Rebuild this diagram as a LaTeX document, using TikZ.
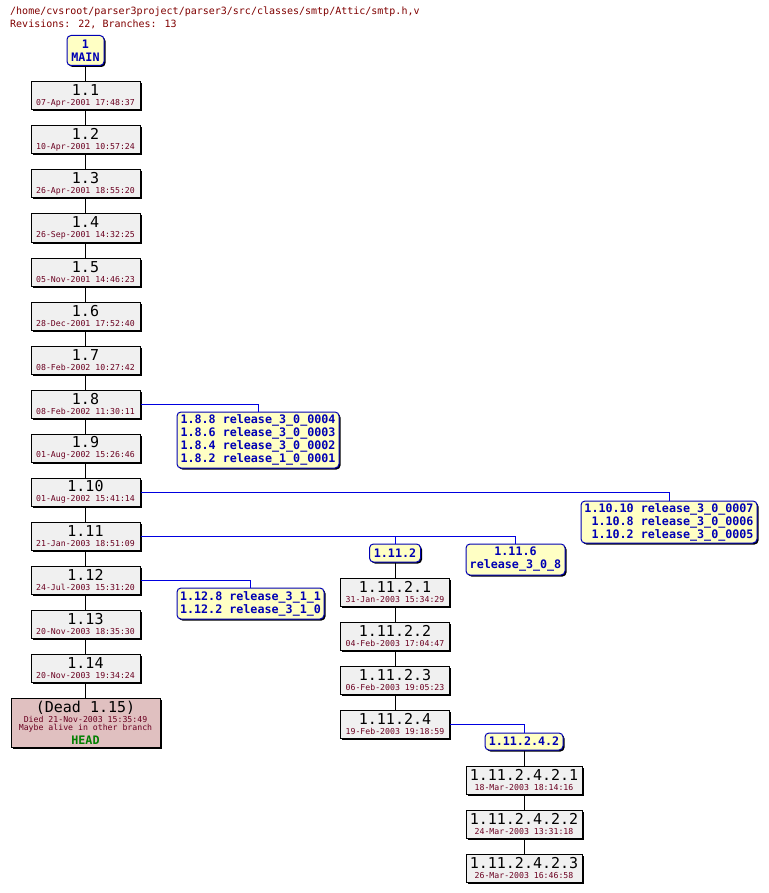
\documentclass[tikz,border=0pt]{standalone}
\usepackage{fontspec}
\setmainfont{DejaVu Sans Mono}
\usetikzlibrary{shadows}

\definecolor{revfill}{HTML}{F0F0F0}
\definecolor{tagfill}{HTML}{FFFFC4}
\definecolor{tagblue}{HTML}{0000B4}
\definecolor{lineblue}{HTML}{0000E0}
\definecolor{datered}{HTML}{6A0020}
\definecolor{hdrred}{HTML}{800000}
\definecolor{deadfill}{HTML}{E0C0C0}
\definecolor{headgreen}{HTML}{008000}

\newcommand{\revtext}[2]{{\fontsize{15}{9.5}\selectfont #1}\\\textcolor{datered}{#2}}

\begin{document}
\begin{tikzpicture}[
  x=1pt, y=-1pt,
  revbox/.style={draw, fill=revfill, line width=1pt, minimum width=109pt, minimum height=28pt, inner sep=0pt, align=center, font=\fontsize{8.2}{9.5}\selectfont, general shadow={fill=black, shadow xshift=1.5pt, shadow yshift=-1.5pt}},
  tagbox/.style={draw=tagblue, fill=tagfill, line width=1pt, rounded corners=4pt, inner sep=0pt, text=tagblue, font=\fontsize{11.7}{13}\selectfont\bfseries, general shadow={fill=black, shadow xshift=1.5pt, shadow yshift=-1.5pt}},
  hdr/.style={anchor=base west, inner sep=0pt, text=hdrred, font=\fontsize{10}{12}\selectfont},
  revline/.style={line width=1pt},
  branchline/.style={line width=1pt, draw=lineblue}
]
\useasboundingbox[fill=white] (0,0) rectangle (768,893);

% Header
\node[hdr] (hdrpath) at (10,15) {/home/cvsroot/parser3project/parser3/src/classes/smtp/Attic/smtp.h,v};
\node[hdr] (hdrstats) at (10,28) {Revisions: 22, Branches: 13};

% Trunk
\node[tagbox, align=center, minimum width=37pt, minimum height=30pt] (main) at (85.5,50.5) {1\\MAIN};
\node[revbox] (r11) at (85.5,96) {\revtext{1.1}{07-Apr-2001 17:48:37}};
\node[revbox] (r12) at (85.5,140) {\revtext{1.2}{10-Apr-2001 10:57:24}};
\node[revbox] (r13) at (85.5,184) {\revtext{1.3}{26-Apr-2001 18:55:20}};
\node[revbox] (r14) at (85.5,228) {\revtext{1.4}{26-Sep-2001 14:32:25}};
\node[revbox] (r15) at (85.5,272) {\revtext{1.5}{05-Nov-2001 14:46:23}};
\node[revbox] (r16) at (85.5,316) {\revtext{1.6}{28-Dec-2001 17:52:40}};
\node[revbox] (r17) at (85.5,360) {\revtext{1.7}{08-Feb-2002 10:27:42}};
\node[revbox] (r18) at (85.5,404) {\revtext{1.8}{08-Feb-2002 11:30:11}};
\node[revbox] (r19) at (85.5,448) {\revtext{1.9}{01-Aug-2002 15:26:46}};
\node[revbox] (r110) at (85.5,492) {\revtext{1.10}{01-Aug-2002 15:41:14}};
\node[revbox] (r111) at (85.5,536) {\revtext{1.11}{21-Jan-2003 18:51:09}};
\node[revbox] (r112) at (85.5,580) {\revtext{1.12}{24-Jul-2003 15:31:20}};
\node[revbox] (r113) at (85.5,624) {\revtext{1.13}{20-Nov-2003 18:35:30}};
\node[revbox] (r114) at (85.5,668) {\revtext{1.14}{20-Nov-2003 19:34:24}};
\node[revbox, fill=deadfill, minimum width=149pt, minimum height=49pt] (dead) at (85.5,722.5)
  {{\fontsize{15}{10}\selectfont (Dead 1.15)}\\[0.5pt]\textcolor{datered}{Died 21-Nov-2003 15:35:49}\\[-1pt]\textcolor{datered}{Maybe alive in other branch}\\[2pt]{\fontsize{11.7}{12}\selectfont\bfseries\textcolor{headgreen}{HEAD}}};

% Tags
\node[tagbox, align=right, minimum width=162pt, minimum height=56pt] (t18) at (258,440)
  {1.8.8 release\_3\_0\_0004\\1.8.6 release\_3\_0\_0003\\1.8.4 release\_3\_0\_0002\\1.8.2 release\_1\_0\_0001};
\node[tagbox, align=right, minimum width=176pt, minimum height=42pt] (t110) at (669,522)
  {1.10.10 release\_3\_0\_0007\\1.10.8 release\_3\_0\_0006\\1.10.2 release\_3\_0\_0005};
\node[tagbox, align=center, minimum width=99pt, minimum height=31pt] (t1116) at (515.5,559.5) {1.11.6\\release\_3\_0\_8};
\node[tagbox, align=right, minimum width=147pt, minimum height=31pt] (t112) at (250.5,603.5)
  {1.12.8 release\_3\_1\_1\\1.12.2 release\_3\_1\_0};

% Branch 1.11.2
\node[tagbox, minimum width=51pt, minimum height=18pt] (b1112) at (395,553) {1.11.2};
\node[revbox] (r11121) at (395,592) {\revtext{1.11.2.1}{31-Jan-2003 15:34:29}};
\node[revbox] (r11122) at (395,636) {\revtext{1.11.2.2}{04-Feb-2003 17:04:47}};
\node[revbox] (r11123) at (395,680) {\revtext{1.11.2.3}{06-Feb-2003 19:05:23}};
\node[revbox] (r11124) at (395,724) {\revtext{1.11.2.4}{19-Feb-2003 19:18:59}};

% Branch 1.11.2.4.2
\node[tagbox, minimum width=78pt, minimum height=17pt] (b111242) at (524,741.5) {1.11.2.4.2};
\node[revbox, minimum width=116pt] (r1112421) at (524,780) {\revtext{1.11.2.4.2.1}{18-Mar-2003 18:14:16}};
\node[revbox, minimum width=116pt] (r1112422) at (524,824) {\revtext{1.11.2.4.2.2}{24-Mar-2003 13:31:18}};
\node[revbox, minimum width=116pt] (r1112423) at (524,868) {\revtext{1.11.2.4.2.3}{26-Mar-2003 16:46:58}};

% Revision lines
\draw[revline] (main) -- (r11);
\draw[revline] (r11) -- (r12);
\draw[revline] (r12) -- (r13);
\draw[revline] (r13) -- (r14);
\draw[revline] (r14) -- (r15);
\draw[revline] (r15) -- (r16);
\draw[revline] (r16) -- (r17);
\draw[revline] (r17) -- (r18);
\draw[revline] (r18) -- (r19);
\draw[revline] (r19) -- (r110);
\draw[revline] (r110) -- (r111);
\draw[revline] (r111) -- (r112);
\draw[revline] (r112) -- (r113);
\draw[revline] (r113) -- (r114);
\draw[revline] (r114) -- (dead);
\draw[revline] (b1112) -- (r11121);
\draw[revline] (r11121) -- (r11122);
\draw[revline] (r11122) -- (r11123);
\draw[revline] (r11123) -- (r11124);
\draw[revline] (b111242) -- (r1112421);
\draw[revline] (r1112421) -- (r1112422);
\draw[revline] (r1112422) -- (r1112423);

% Branch and tag lines
\draw[branchline] (r18.east) -| (t18.north);
\draw[branchline] (r110.east) -| (t110.north);
\draw[branchline] (r111.east) -| (t1116.north);
\draw[branchline] (r111.east) -| (b1112.north);
\draw[branchline] (r112.east) -| (t112.north);
\draw[branchline] (r11124.east) -| (b111242.north);

\end{tikzpicture}
\end{document}
